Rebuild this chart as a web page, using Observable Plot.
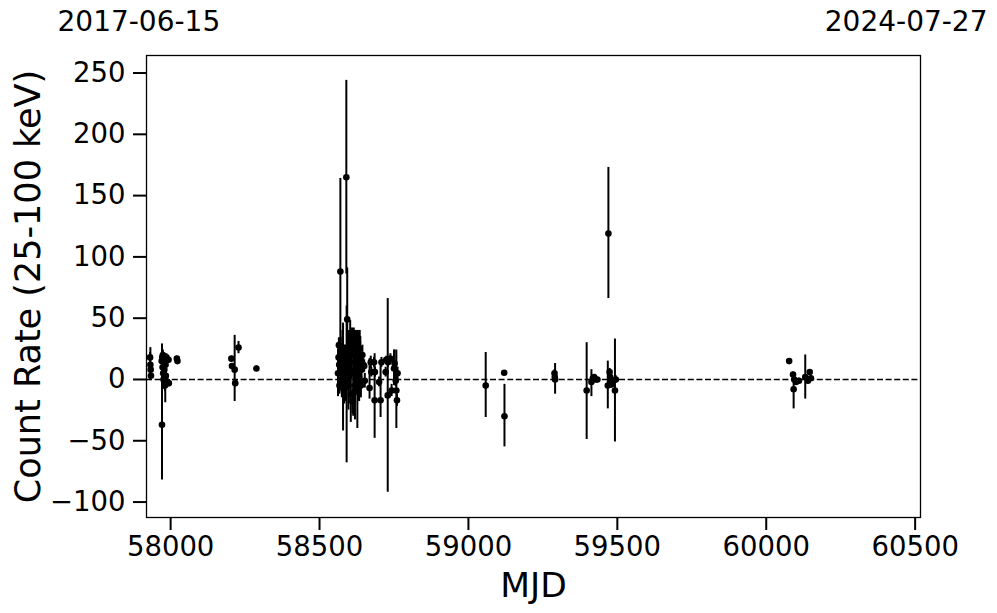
<!DOCTYPE html>
<html>
<head>
<meta charset="utf-8">
<script src="https://cdn.jsdelivr.net/npm/d3@7"></script>
<script src="https://cdn.jsdelivr.net/npm/@observablehq/plot@0.6"></script>
<style>
  html, body { margin: 0; padding: 0; background: white; }
  #chart svg { display: block; }
</style>
</head>
<body>
<div id="chart"></div>
<script>
// ---- data ----
const mjd  = [57931,57932,57933,57934,
  57970,57971,57972,57973,57974,57975,57976,57977,57979,57980,57981,57982,57983,57984,57985,57986,57993,57994,
  58021,58023,
  58204,58206,58215,58217,58228,58288,
  58562,58564,58565,58566,58567,58570,58571,58573,58575,58577,58579,58581,58583,58585,58588,58590,58591,58593,58595,58597,
  58599,58601,58603,58605,58607,58609,58611,58613,58615,58617,58619,58621,58623,58625,58627,58629,58631,58633,58635,58637,
  58639,58641,58644,58647,58650,58652,58668,58672,58674,58683,58685,58686,58700,58705,58708,58722,58724,58729,58730,58738,
  58742,58750,58752,58756,58758,58760,58762,
  59058,59120,59121,59289,59290,59291,59397,59413,59418,59422,59428,59433,59468,59470,59474,59476,59478,59480,59492,59495,
  60077,60090,60092,60094,60100,60110,60131,60140,60146,60150];
const rate = [18,12,8,3,
  15,-37,18,10,20,5,0,14,8,17,-5,0,12,3,-2,18,16,-3,
  17,15,
  17,11,8,-3,26,9,
  5,18,28,12,-5,88,22,8,-3,15,2,20,-8,10,5,165,0,49,18,-5,
  25,8,14,-12,20,30,-18,5,22,28,-5,35,15,25,-10,30,10,2,25,15,
  -5,8,20,12,11,-1,-7,14,6,14,-17,6,-2,-17,14,6,16,-13,14,17,
  -9,9,13,-1,-9,-17,5,
  -5,5.5,-30,5,2,0,-9,-2,1,2,0,0,-5,119,6,2,0,-4,-9,0,
  15,4,-8,0,-2,-1,2,-1,6,1];
const lo = [14,-1,6,1,
  12,-82,14,5,16,-2,-8,10,2,13,-10,-19,8,-2,-7,15,14,-6,
  15,13,
  15,9,-18,-6,21,7,
  -14,6,22,2,-12,13,10,-10,-15,-10,-42,12,-20,-8,-18,86,-68,7,6,-25,
  10,-2,-20,-35,0,18,-28,-30,2,16,-33,30,-10,10,-40,20,-18,-18,10,-5,
  -15,0,12,7,6,-7,-16,9,2,10,-48,2,-6,-31,10,2,13,-92,10,13,
  -14,-5,0,-6,-40,-22,0,
  -31,4,-55,2,-1,-12,-49,-14,-1,0,-1,-1,-24,66,3,-1,-3,-7,-51,-3,
  13,2,-24,-2,-4,-3,-16,-3,4,-1];
const hi = [22,26,10,5,
  18,29,22,15,24,12,8,18,14,21,0,19,16,8,3,21,18,0,
  19,17,
  19,13,36,0,31,11,
  25,30,34,22,2,164,34,26,9,40,46,28,4,28,28,244,60,91,30,15,
  40,18,48,11,40,42,-8,40,42,40,23,40,40,40,20,40,38,22,40,35,
  5,16,28,17,16,5,17,19,10,18,21,10,2,15,18,10,19,66,18,21,
  -4,24,24,4,24,-12,10,
  22,7,-4,8,5,13,30,8,3,4,1,1,15,173,9,5,3,-1,33,3,
  17,6,5,2,0,1,20,1,8,3];

const xTicks = [58000, 58500, 59000, 59500, 60000, 60500];
const yTicks = [-100, -50, 0, 50, 100, 150, 200, 250];
const startLabel = "2017-06-15";
const endLabel = "2024-07-27";
const xLabel = "MJD";
const yLabel = "Count Rate (25-100 keV)";

const data = mjd.map((m, i) => ({mjd: m, rate: rate[i], lo: lo[i], hi: hi[i]}));
const fmtY = d => d < 0 ? "\u2212" + Math.abs(d) : String(d);

const chart = Plot.plot({
  width: 997,
  height: 613,
  marginLeft: 146,
  marginRight: 77,
  marginTop: 55,
  marginBottom: 96,
  style: {fontFamily: "DejaVu Sans", fontSize: "27px", color: "black", background: "white"},
  x: {domain: [57919, 60518]},
  y: {domain: [-112.6, 264.3]},
  marks: [
    Plot.ruleY([0], {stroke: "black", strokeWidth: 1.5, strokeDasharray: "6,2.6"}),
    Plot.ruleX(data, {x: "mjd", y1: "lo", y2: "hi", stroke: "black", strokeWidth: 2}),
    Plot.dot(data, {x: "mjd", y: "rate", r: 3.3, fill: "black", stroke: null}),
    Plot.frame({stroke: "black", strokeWidth: 1.3}),
    Plot.axisX({ticks: xTicks, tickFormat: d => String(d), tickSize: 13, tickPadding: 6,
      strokeWidth: 2, label: null, fontSize: 27.5}),
    Plot.axisY({ticks: yTicks, tickFormat: fmtY, tickSize: 13, tickPadding: 8,
      strokeWidth: 2, label: null, fontSize: 27.5}),
    Plot.text([xLabel], {text: d => d, frameAnchor: "bottom", textAnchor: "middle",
      lineAnchor: "middle", dy: 68, fontSize: 34.5}),
    Plot.text([yLabel], {text: d => d, frameAnchor: "left", textAnchor: "middle",
      lineAnchor: "middle", rotate: -90, dx: -118, fontSize: 35}),
    Plot.text([startLabel], {text: d => d, frameAnchor: "top-left", textAnchor: "start",
      lineAnchor: "middle", dx: -89, dy: -33, fontSize: 28}),
    Plot.text([endLabel], {text: d => d, frameAnchor: "top-right", textAnchor: "end",
      lineAnchor: "middle", dx: 67, dy: -33, fontSize: 28})
  ]
});
document.getElementById("chart").appendChild(chart);
</script>
</body>
</html>
